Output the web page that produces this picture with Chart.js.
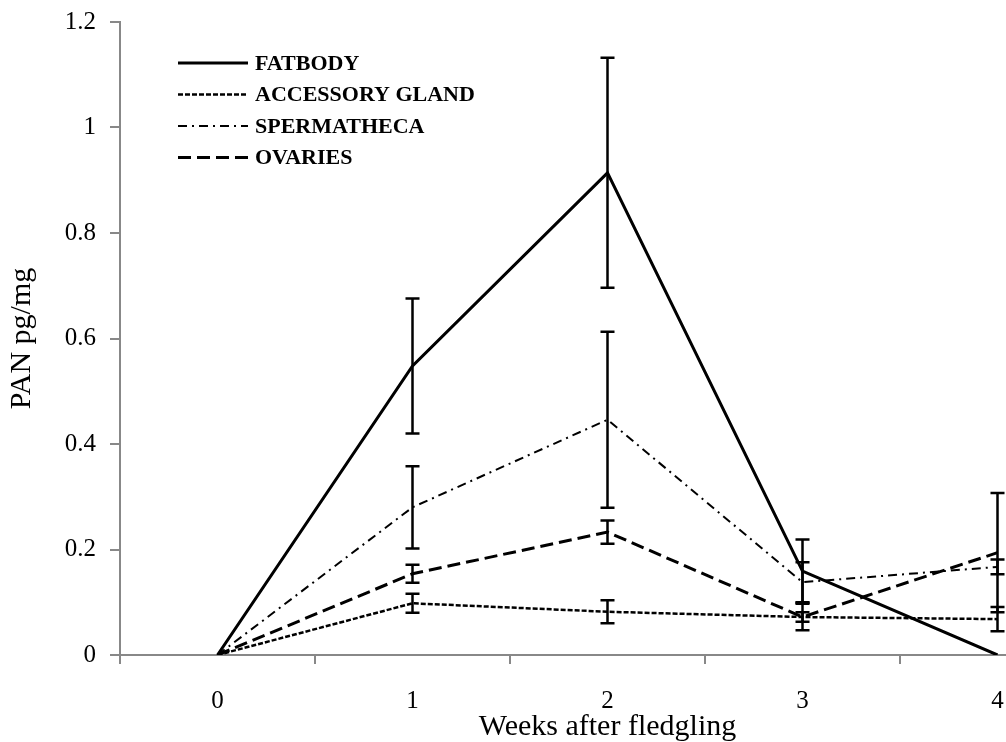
<!DOCTYPE html>
<html>
<head>
<meta charset="utf-8">
<script src="https://cdn.jsdelivr.net/npm/chart.js@4.4.1/dist/chart.umd.min.js"></script>
<style>
  html, body { margin: 0; padding: 0; background: #fff; overflow: hidden; }
  #wrap { width: 1100px; height: 742px; }
</style>
</head>
<body>
<div id="wrap"><canvas id="chart" width="1100" height="742"></canvas></div>
<script>
// values
const weeks = ["0", "1", "2", "3", "4"];
const seriesNames = ["FATBODY", "ACCESSORY GLAND", "SPERMATHECA", "OVARIES"];

const fatbody = [0, 0.548, 0.914, 0.159, 0];
const fatbodyErr = [0, 0.128, 0.218, 0.06, 0];

const accessory = [0, 0.098, 0.082, 0.072, 0.068];
const accessoryErr = [0, 0.018, 0.022, 0.009, 0.023];

const spermatheca = [0, 0.28, 0.446, 0.138, 0.167];
const spermathecaErr = [0, 0.078, 0.167, 0.038, 0.014];

const ovaries = [0, 0.154, 0.233, 0.072, 0.194];
const ovariesErr = [0, 0.017, 0.022, 0.025, 0.113];

const yTicks = [0, 0.2, 0.4, 0.6, 0.8, 1, 1.2];

const serif = "'Liberation Serif', 'Times New Roman', serif";

// line looks for each series
const styles = [
  { width: 3, dash: [] },
  { width: 2.5, dash: [5, 2] },
  { width: 2, dash: [9, 5, 2, 5] },
  { width: 3, dash: [13, 6] }
];

const values = [fatbody, accessory, spermatheca, ovaries];
const errors = [fatbodyErr, accessoryErr, spermathecaErr, ovariesErr];

const datasets = seriesNames.map((name, i) => ({
  label: name,
  data: values[i],
  err: errors[i],
  borderColor: "#000",
  borderWidth: styles[i].width,
  borderDash: styles[i].dash,
  pointRadius: 0,
  tension: 0,
  fill: false
}));

const errorBars = {
  id: "errorBars",
  afterDatasetsDraw(chart) {
    const ctx = chart.ctx;
    const x = chart.scales.x, y = chart.scales.y;
    ctx.save();
    ctx.strokeStyle = "#000";
    ctx.lineWidth = 2.5;
    ctx.setLineDash([]);
    chart.data.datasets.forEach(ds => {
      ds.data.forEach((v, i) => {
        const e = ds.err[i];
        if (!e) return;
        const px = x.getPixelForValue(i);
        const top = y.getPixelForValue(v + e);
        const bot = y.getPixelForValue(v - e);
        ctx.beginPath();
        ctx.moveTo(px, top); ctx.lineTo(px, bot);
        ctx.moveTo(px - 7, top); ctx.lineTo(px + 7, top);
        ctx.moveTo(px - 7, bot); ctx.lineTo(px + 7, bot);
        ctx.stroke();
      });
    });
    ctx.restore();
  }
};

const lineLegend = {
  id: "lineLegend",
  afterDraw(chart) {
    const ctx = chart.ctx;
    const left = chart.chartArea.left + 58;
    const top = chart.chartArea.top + 41;
    ctx.save();
    ctx.font = "bold 22px " + serif;
    ctx.textBaseline = "middle";
    ctx.fillStyle = "#000";
    seriesNames.forEach((name, i) => {
      const yy = top + i * 31.5;
      ctx.strokeStyle = "#000";
      ctx.lineWidth = styles[i].width;
      ctx.setLineDash(styles[i].dash);
      ctx.beginPath();
      ctx.moveTo(left, yy);
      ctx.lineTo(left + 70, yy);
      ctx.stroke();
      ctx.fillText(name, left + 77, yy + 1);
    });
    ctx.restore();
  }
};

new Chart(document.getElementById("chart"), {
  type: "line",
  data: { labels: weeks, datasets },
  options: {
    responsive: false,
    animation: false,
    layout: { padding: { top: 22, right: 5, left: 0, bottom: 0 } },
    plugins: {
      legend: { display: false },
      tooltip: { enabled: false }
    },
    scales: {
      x: {
        type: "category",
        offset: true,
        grid: {
          offset: true,
          drawOnChartArea: false,
          drawTicks: true,
          tickLength: 9,
          color: "#888",
          lineWidth: 2
        },
        border: { color: "#888", width: 2 },
        ticks: {
          color: "#000",
          font: { family: serif, size: 25 },
          padding: 22,
          maxRotation: 0
        },
        title: {
          display: true,
          text: "Weeks after fledgling",
          color: "#000",
          font: { family: serif, size: 30, lineHeight: 1 },
          padding: { top: 0, bottom: 0 }
        },
        afterFit(scale) { scale.height = 87; }
      },
      y: {
        min: 0,
        max: 1.2,
        afterBuildTicks(scale) { scale.ticks = yTicks.map(v => ({ value: v })); },
        grid: {
          drawOnChartArea: false,
          drawTicks: true,
          tickLength: 10,
          color: "#888",
          lineWidth: 2
        },
        border: { color: "#888", width: 2 },
        ticks: {
          color: "#000",
          font: { family: serif, size: 25 },
          padding: 14,
          callback: v => String(Math.round(v * 10) / 10)
        },
        title: {
          display: true,
          text: "PAN pg/mg",
          color: "#000",
          font: { family: serif, size: 30 },
          padding: { top: 4, bottom: 0 }
        },
        afterFit(scale) {
          scale.width = 120;
          scale.paddingTop = 0;
          scale.paddingBottom = 0;
        }
      }
    }
  },
  plugins: [errorBars, lineLegend]
});
</script>
</body>
</html>
